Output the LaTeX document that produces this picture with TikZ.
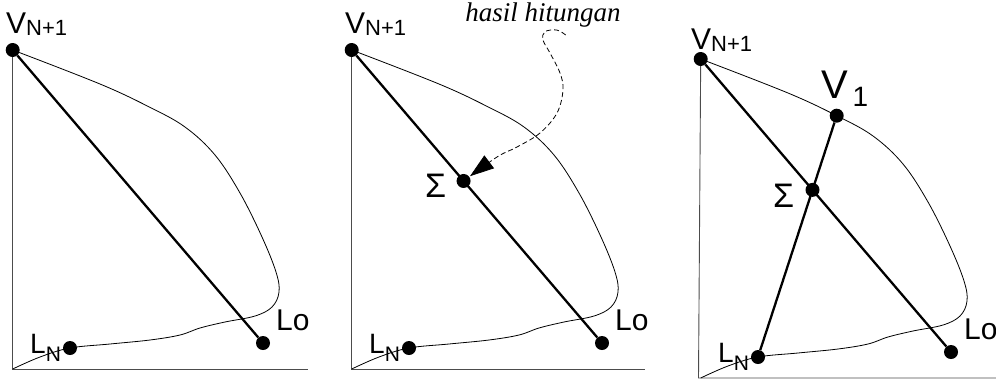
\documentclass[tikz,border=0pt]{standalone}
\usepackage{fontspec}
\newfontfamily\lab{Liberation Sans}
\newfontfamily\note{Liberation Serif}
\usetikzlibrary{arrows.meta,calc}
\newcommand\sz[1]{\fontsize{#1}{#1}\selectfont}
\begin{document}
\begin{tikzpicture}[x=1pt,y=-1pt,
  dot/.style={circle,fill=black,inner sep=0pt,minimum size=14pt},
  heavy/.style={line width=2.3pt},
  curveline/.style={line width=0.8pt},
  axisline/.style={line width=0.9pt,black!70},
  lbl/.style={anchor=base west,inner sep=0pt,font=\lab},
  dasharrow/.style={line width=0.8pt,dash pattern=on 5pt off 3pt,shorten >=8pt,-{Triangle[length=24pt,width=16pt]}},
  curveshape/.pic={\draw[curveline] plot[smooth,tension=0.6] coordinates {(12.7,50) (100,84) (148.7,106.7) (185,127) (215,155) (240,193) (262,237) (276,272) (279,292) (272,307) (255,316) (225,322) (200,328) (180,335) (150,340) (110,344) (70,348) (40,357) (12.7,369)};}
]
\useasboundingbox (0,0) rectangle (996,381);

% ---------- panel 1 ----------
\begin{scope}
  \coordinate (o1) at (12.7,369);
  \coordinate (x1) at (308,369);
  \coordinate (cv1) at (12.7,50);
  \draw[axisline] (cv1) -- (o1) -- (x1);
  \pic at (0,0) {curveshape};
  \node[dot] (v1) at (cv1) {};
  \node[dot] (lo1) at (263,343) {};
  \node[dot] (ln1) at (70,348) {};
  \draw[heavy] (v1) -- (lo1);
\end{scope}
\node[lbl] (tv1) at (6,33) {\sz{30}V\raisebox{-2pt}{\sz{22}N+1}};
\node[lbl] (tln1) at (30,353) {\sz{28}L\raisebox{-8pt}{\sz{21}N}};
\node[lbl] (tlo1) at (276,330) {\sz{30}Lo};

% ---------- panel 2 ----------
\begin{scope}[shift={(339,0)}]
  \coordinate (o2) at (12.7,369);
  \coordinate (x2) at (306,369);
  \coordinate (cv2) at (12.7,50);
  \draw[axisline] (cv2) -- (o2) -- (x2);
  \pic at (0,0) {curveshape};
  \node[dot] (v2) at (cv2) {};
  \node[dot] (lo2) at (263,343) {};
  \node[dot] (ln2) at (70,348) {};
  \draw[heavy] (v2) -- (lo2);
  \node[dot] (s2) at ($(v2.center)!0.447!(lo2.center)$) {};
\end{scope}
\node[lbl] (tv2) at (345,33) {\sz{30}V\raisebox{-2pt}{\sz{22}N+1}};
\node[lbl] (tln2) at (369,353) {\sz{28}L\raisebox{-8pt}{\sz{21}N}};
\node[lbl] (tlo2) at (615,330) {\sz{30}Lo};
\node[lbl] (ts2) at (425,197) {\sz{34}Σ};
\node[anchor=base,inner sep=0pt,font=\note\itshape\sz{27}] (hh) at (543,21) {hasil hitungan};
\coordinate (hs) at (565.7,35);
\draw[dasharrow] plot[smooth,tension=0.6] coordinates {(hs) (556.7,30) (545,31.7) (543,40) (550,53) (560,73) (563,90) (557,113) (540,133) (517,147) (497,157) (s2)};

% ---------- panel 3 ----------
\begin{scope}[shift={(688,9)}]
  \coordinate (o3) at (10.5,369);
  \coordinate (x3) at (320,369);
  \coordinate (cv3) at (12.7,50);
  \draw[axisline] (cv3) -- (o3) -- (x3);
  \pic at (0,0) {curveshape};
  \node[dot] (v3) at (cv3) {};
  \node[dot] (lo3) at (263,343) {};
  \node[dot] (ln3) at (70,348) {};
  \node[dot] (w3) at (148.7,106.7) {};
  \draw[heavy] (v3) -- (lo3);
  \draw[heavy] (ln3) -- (w3);
  \node[dot] (s3) at (intersection of v3--lo3 and ln3--w3) {};
\end{scope}
\node[lbl] (tv3) at (691,49) {\sz{30}V\raisebox{-2pt}{\sz{22}N+1}};
\node[lbl] (tw3) at (821,98) {\sz{40}V\raisebox{-8pt}{\sz{28}\,1}};
\node[lbl] (ts3) at (773,207) {\sz{34}Σ};
\node[lbl] (tln3) at (718,362) {\sz{28}L\raisebox{-8pt}{\sz{21}N}};
\node[lbl] (tlo3) at (964,339) {\sz{30}Lo};
\end{tikzpicture}
\end{document}
